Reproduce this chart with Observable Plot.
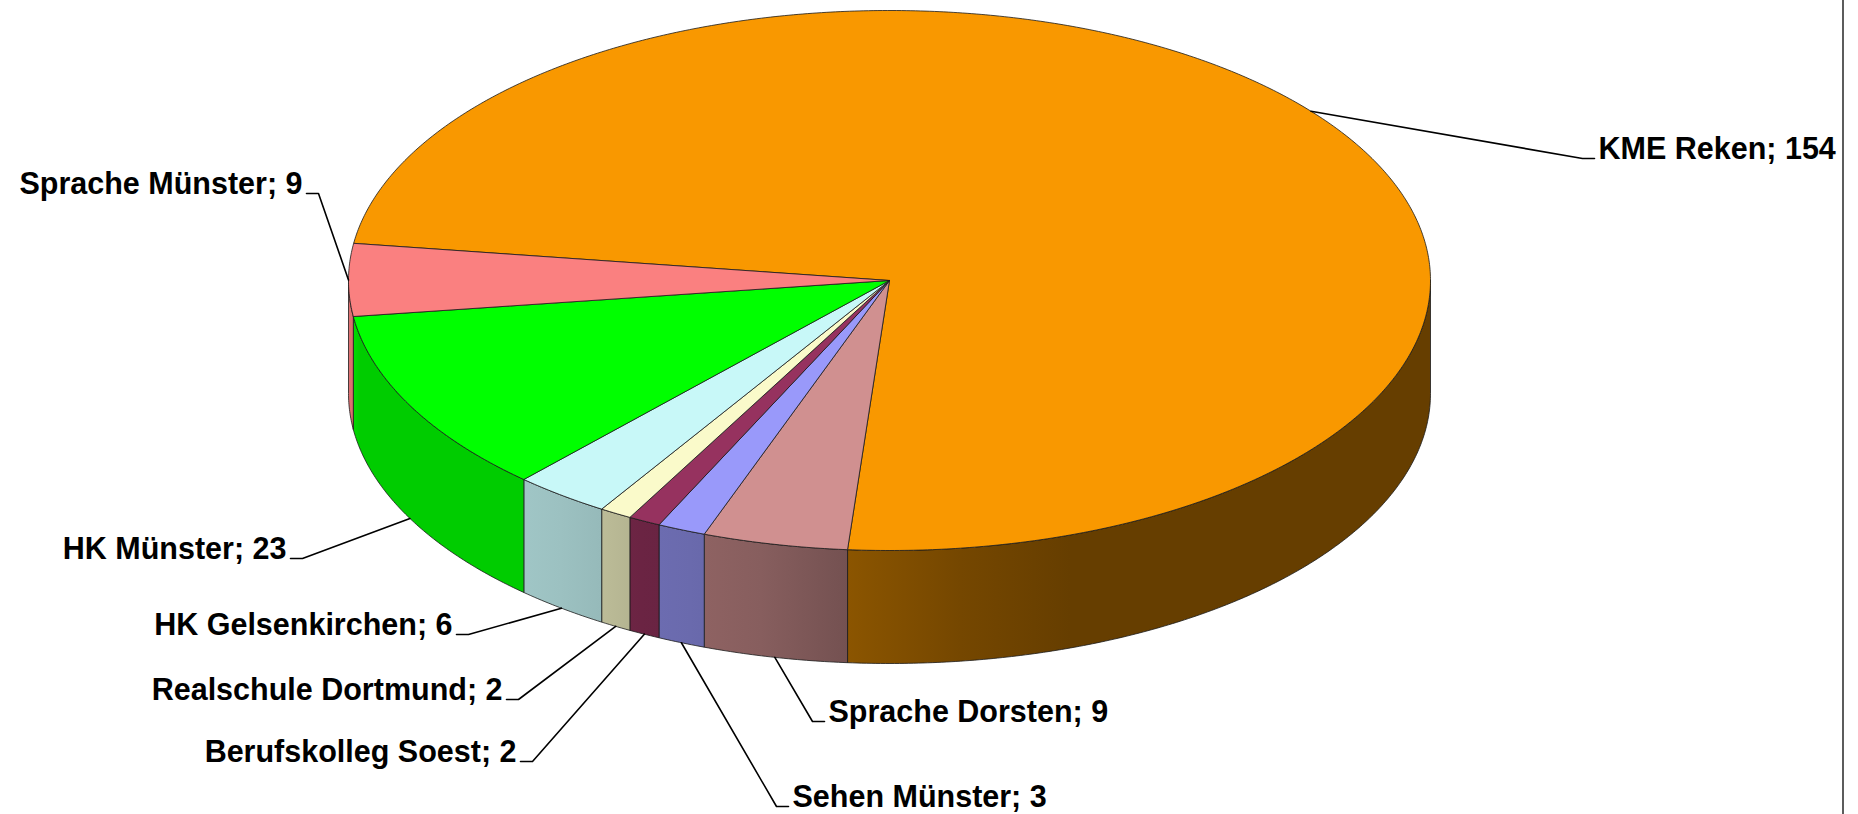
<!DOCTYPE html>
<html>
<head>
<meta charset="utf-8">
<script src="https://cdn.jsdelivr.net/npm/d3@7"></script>
<script src="https://cdn.jsdelivr.net/npm/@observablehq/plot@0.6"></script>
<style>
  html, body { margin: 0; padding: 0; background: #fff; }
  #chart { position: relative; width: 1858px; height: 814px; overflow: hidden; }
  #chart svg { display: block; }
  #border { position: absolute; left: 1842px; top: 0; width: 2px; height: 814px; background: #5c5c5c; }
</style>
</head>
<body>
<div id="chart"><div id="border"></div></div>
<script>
// ---------- data ----------
const categories = ["KME Reken", "Sprache Dorsten", "Sehen Münster", "Berufskolleg Soest",
                    "Realschule Dortmund", "HK Gelsenkirchen", "HK Münster", "Sprache Münster"];
const values = [154, 9, 3, 2, 2, 6, 23, 9];

// ---------- styles ----------
const topColors = ["#F99800", "#D09090", "#9999FA", "#96325F", "#FAFACA", "#C8F8F8", "#00FF00", "#FA8080"];
// brightness of the side wall along the screen x (pixel, factor)
const shadeStops = [[348, 0.9], [360, 0.8], [520, 0.8], [560, 0.78], [600, 0.75], [640, 0.71],
                    [690, 0.69], [760, 0.65], [847, 0.56], [960, 0.47], [1070, 0.41], [1430, 0.41]];

// ---------- layout ----------
const W = 1858, H = 814;
const CX = 889, CY = 280, RX = 541, RY = 270, DEPTH = 113;
const xRange = [CX - RX, CX + RX], yRange = [CY - RY, CY + RY];
const depthU = DEPTH / RY;
const startDeg = -82.09;
// label knee points (pixels) and side
const labelLayout = [
  {knee: [1582, 158], side: "right"},
  {knee: [812, 721], side: "right"},
  {knee: [776, 806], side: "right"},
  {knee: [532, 761], side: "left"},
  {knee: [518, 699], side: "left"},
  {knee: [468, 634], side: "left"},
  {knee: [302, 558], side: "left"},
  {knee: [318, 193], side: "left"}
];
const TICK = 12, GAP = 4;
const ux = px => (px - CX) / RX;
const uy = py => (py - CY) / RY;

// ---------- geometry from data ----------
const a0 = startDeg * Math.PI / 180;
const pie = d3.pie().sort(null).startAngle(a0).endAngle(a0 + 2 * Math.PI)(values);
const STEP = Math.PI / 360;
function arcAngles(lo, hi) {
  const n = Math.max(2, Math.ceil((hi - lo) / STEP));
  return d3.range(n + 1).map(i => lo + (hi - lo) * i / n);
}

const topPts = [];
pie.forEach((p, i) => {
  const key = "top" + i, fill = topColors[i];
  topPts.push({key, fill, x: 0, y: 0});
  for (const a of arcAngles(p.startAngle, p.endAngle)) topPts.push({key, fill, x: Math.sin(a), y: -Math.cos(a)});
  topPts.push({key, fill, x: 0, y: 0});
});

const sidePts = [];
pie.forEach((p, i) => {
  for (let k = -1; k <= 1; k++) {
    const lo = Math.max(p.startAngle, Math.PI / 2 + 2 * Math.PI * k);
    const hi = Math.min(p.endAngle, 3 * Math.PI / 2 + 2 * Math.PI * k);
    if (hi - lo > 1e-6) {
      const key = `side${i}_${k}`, fill = `url(#grad${i})`;
      const as = arcAngles(lo, hi);
      const pts = as.map(a => ({key, fill, x: Math.sin(a), y: -Math.cos(a)}))
        .concat(as.slice().reverse().map(a => ({key, fill, x: Math.sin(a), y: -Math.cos(a) + depthU})));
      pts.push({...pts[0]});
      sidePts.push(...pts);
    }
  }
});

const leaderPts = [], labels = [];
pie.forEach((p, i) => {
  const mid = (p.startAngle + p.endAngle) / 2;
  const front = -Math.cos(mid) > 0;
  const ax = Math.sin(mid), ay = -Math.cos(mid) + (front ? depthU : 0);
  const L = labelLayout[i];
  const dir = L.side === "right" ? 1 : -1;
  const key = "lead" + i;
  leaderPts.push({key, x: ax, y: ay});
  leaderPts.push({key, x: ux(L.knee[0]), y: uy(L.knee[1])});
  leaderPts.push({key, x: ux(L.knee[0] + dir * TICK), y: uy(L.knee[1])});
  labels.push({
    side: L.side,
    x: ux(L.knee[0] + dir * (TICK + GAP)),
    y: uy(L.knee[1]),
    text: `${categories[i]}; ${values[i]}`
  });
});

const textOpts = {x: "x", y: "y", text: "text", fontSize: 30.5, fontWeight: "bold", fill: "#000", lineAnchor: "bottom"};

const chart = Plot.plot({
  width: W, height: H, margin: 0,
  x: {domain: [-1, 1], range: xRange, axis: null},
  y: {domain: [-1, 1], range: yRange, axis: null},
  color: {type: "identity"},
  style: {background: "#fff", fontFamily: "'Liberation Sans', Arial, Helvetica, sans-serif", overflow: "visible"},
  marks: [
    Plot.line(sidePts, {x: "x", y: "y", z: "key", fill: "fill", stroke: "#1a1a1a", strokeWidth: 0.8, curve: "linear"}),
    Plot.line(topPts, {x: "x", y: "y", z: "key", fill: "fill", stroke: "#1a1a1a", strokeWidth: 0.8, curve: "linear"}),
    Plot.line(leaderPts, {x: "x", y: "y", z: "key", stroke: "#000", strokeWidth: 1.6, curve: "linear"}),
    Plot.text(labels.filter(d => d.side === "left"), {...textOpts, textAnchor: "end"}),
    Plot.text(labels.filter(d => d.side === "right"), {...textOpts, textAnchor: "start"})
  ]
});

// gradients for the side walls
const ns = "http://www.w3.org/2000/svg";
const defs = document.createElementNS(ns, "defs");
topColors.forEach((c, i) => {
  const g = document.createElementNS(ns, "linearGradient");
  g.setAttribute("id", `grad${i}`);
  g.setAttribute("gradientUnits", "userSpaceOnUse");
  g.setAttribute("x1", xRange[0]); g.setAttribute("x2", xRange[1]);
  g.setAttribute("y1", 0); g.setAttribute("y2", 0);
  const base = d3.rgb(c);
  for (const [px, f] of shadeStops) {
    const s = document.createElementNS(ns, "stop");
    s.setAttribute("offset", (px - xRange[0]) / (xRange[1] - xRange[0]));
    s.setAttribute("stop-color", d3.rgb(base.r * f, base.g * f, base.b * f).formatHex());
    g.appendChild(s);
  }
  defs.appendChild(g);
});
chart.insertBefore(defs, chart.firstChild);
document.getElementById("chart").prepend(chart);
</script>
</body>
</html>
